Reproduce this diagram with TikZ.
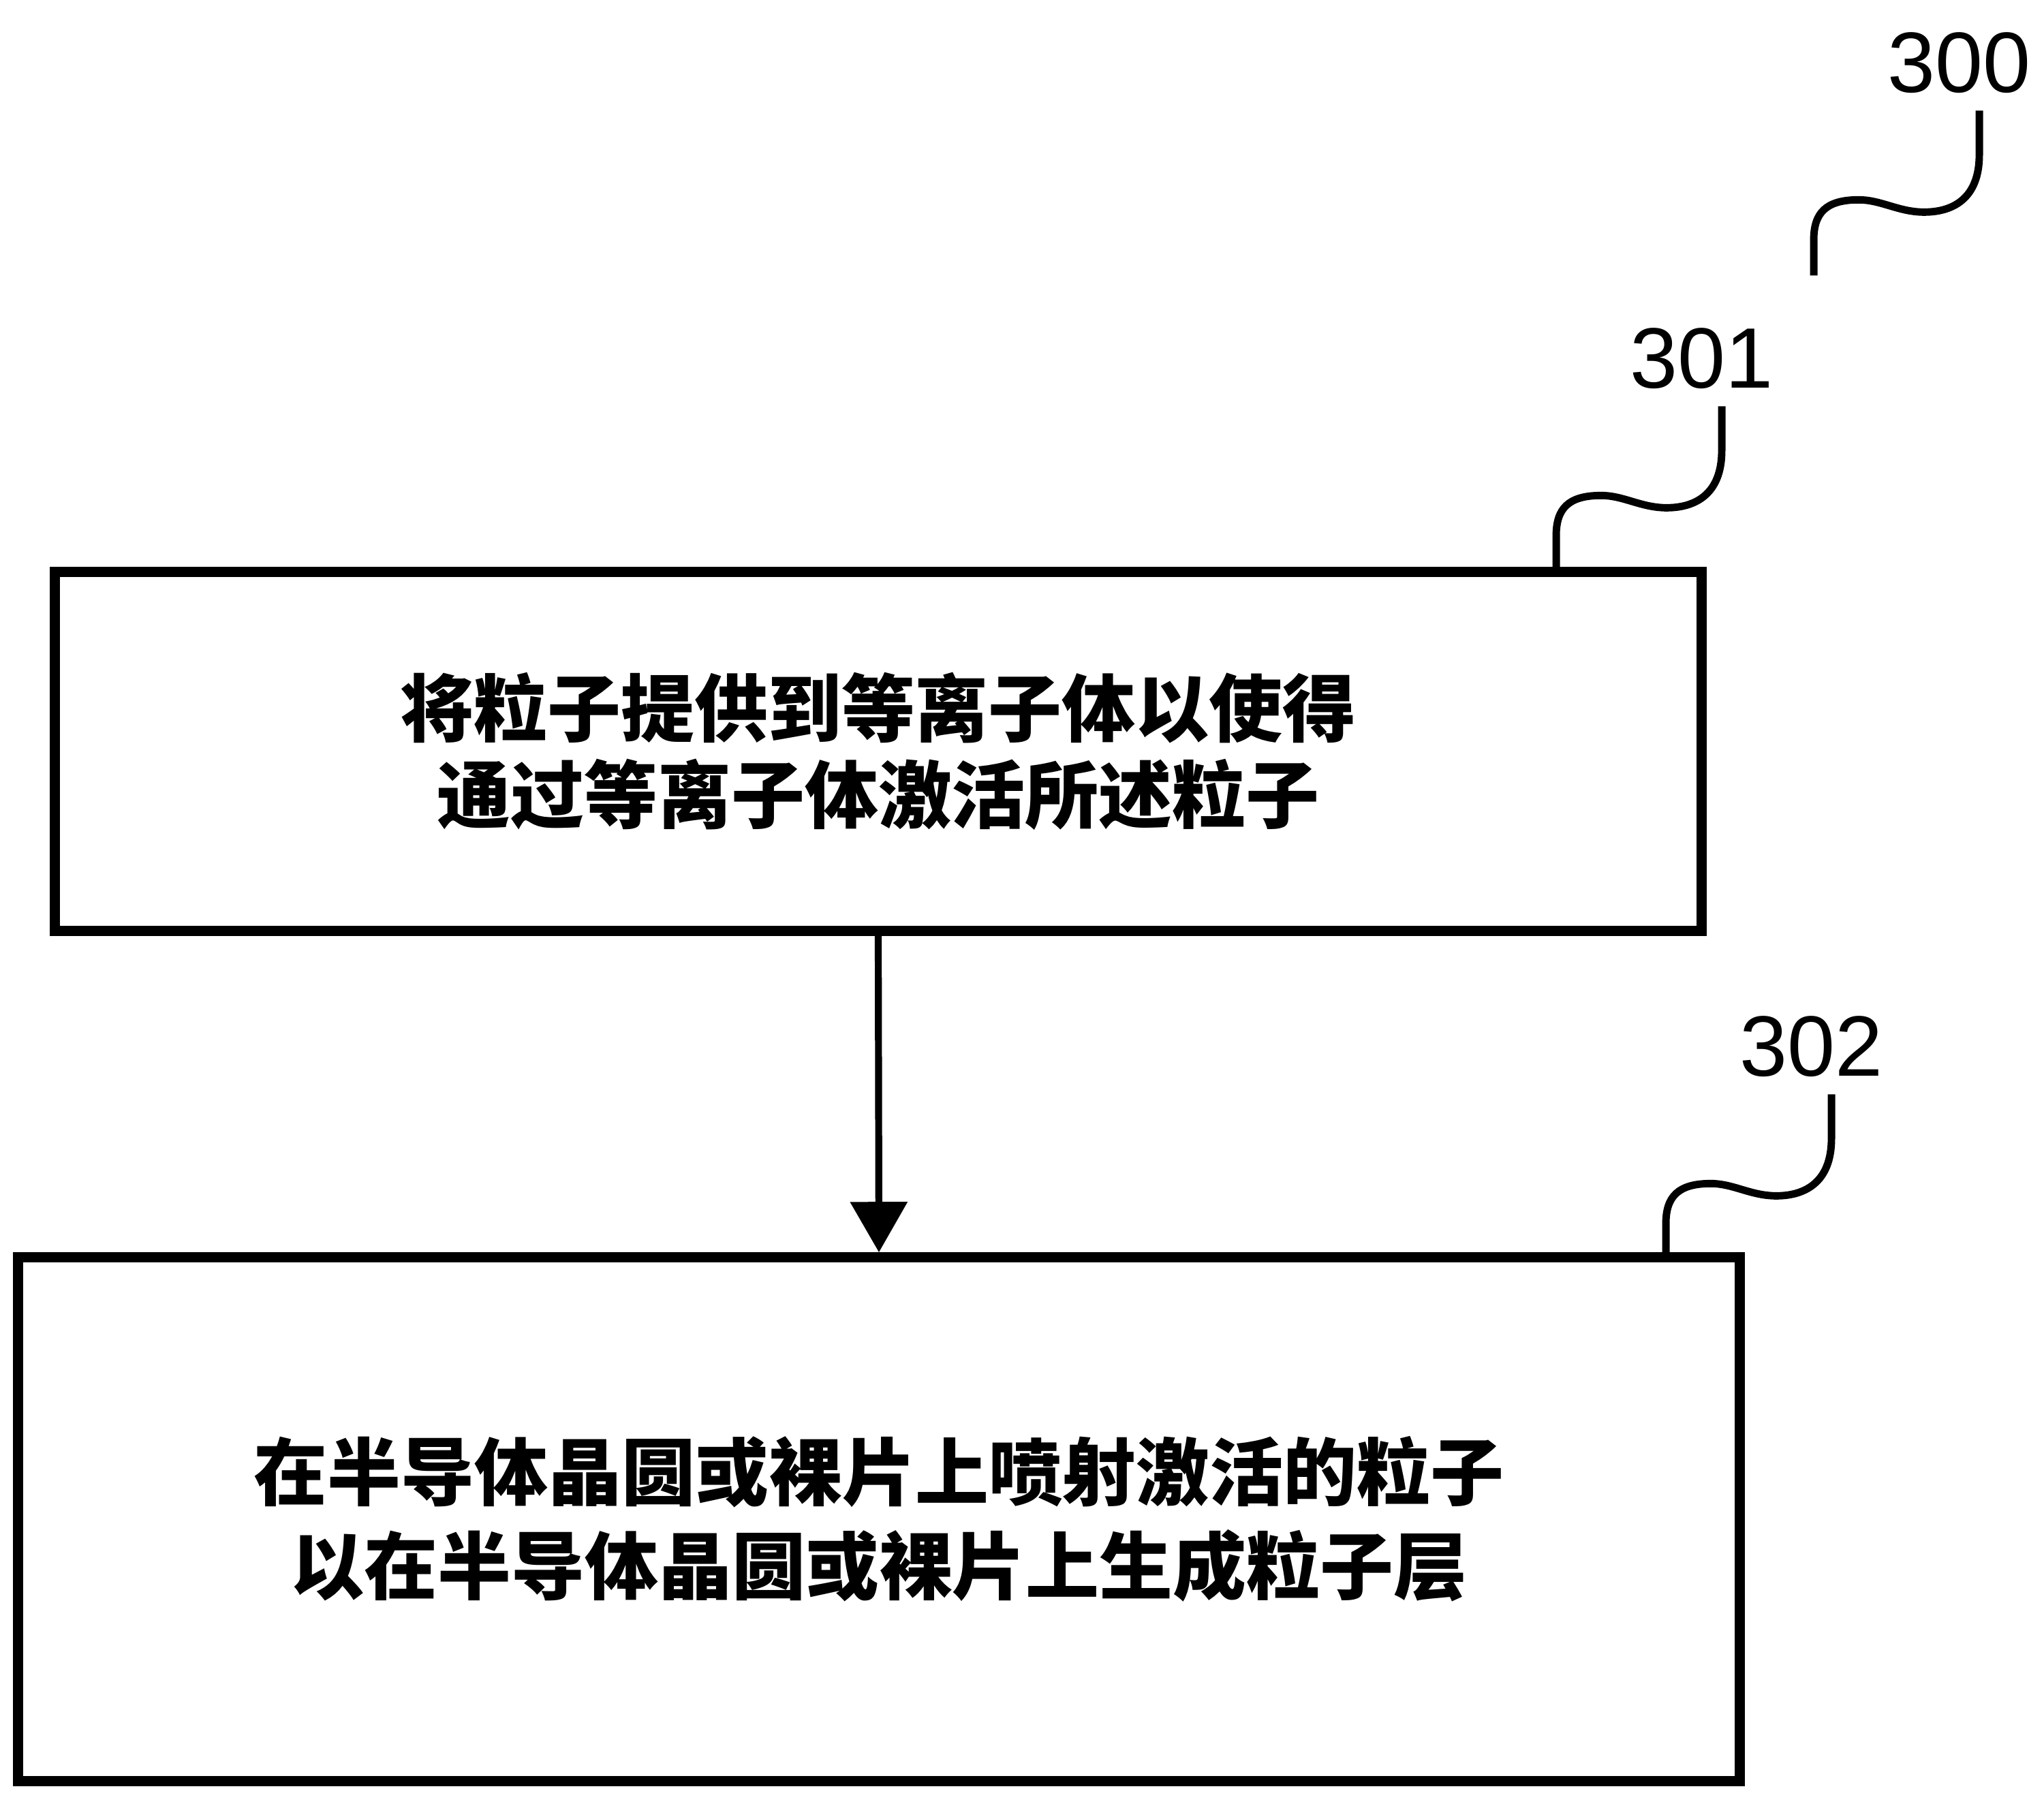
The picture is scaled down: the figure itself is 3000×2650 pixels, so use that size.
\documentclass[tikz,border=0pt]{standalone}
\usepackage{fontspec}
\setmainfont{Liberation Sans}
\newfontfamily\cjk{Noto Sans CJK SC}
\usetikzlibrary{arrows.meta}

\begin{document}
\begin{tikzpicture}[x=0.01cm, y=-0.01cm, >={Triangle[width=8.2mm,length=7.4mm]},
  stepbox/.style={draw, line width=4.3pt, inner sep=0pt, align=center},
  refnum/.style={inner sep=0pt, font=\fontsize{35.8pt}{40pt}\selectfont},
  lead/.style={line width=3.1pt}]
\useasboundingbox (0,0) rectangle (3000,2650);
\node[stepbox, minimum width=24.16cm, minimum height=5.26cm, font=\cjk\bfseries\fontsize{30.7pt}{36.1pt}\selectfont] (s301) at (1289,1103) {将粒子提供到等离子体以使得\\通过等离子体激活所述粒子};
\node[stepbox, minimum width=25.26cm, minimum height=7.68cm, font=\cjk\bfseries\fontsize{30.7pt}{39.3pt}\selectfont] (s302) at (1290,2230) {在半导体晶圆或裸片上喷射激活的粒子\\以在半导体晶圆或裸片上生成粒子层};
\node[refnum] (n300) at (2875,92) {300};
\node[refnum] (n301) at (2497,526) {301};
\node[refnum] (n302) at (2658,1536) {302};

\draw[->, line width=2.9pt] (s301.south) -- (s302.north);
% wavy leaders from the numbers
\foreach \n in {300,301,302}
  \draw[lead] ([xshift=3mm,yshift=-2.5mm]n\n.south) -- ++(0,65)
    .. controls +(0,65) and +(44,1) .. ++(-84,84)
    .. controls +(-36,-1) and +(32,0) .. ++(-93,-18)
    .. controls +(-48,0) and +(0,-40) .. ++(-66,59)
    -- ++(0,52);
\end{tikzpicture}
\end{document}
